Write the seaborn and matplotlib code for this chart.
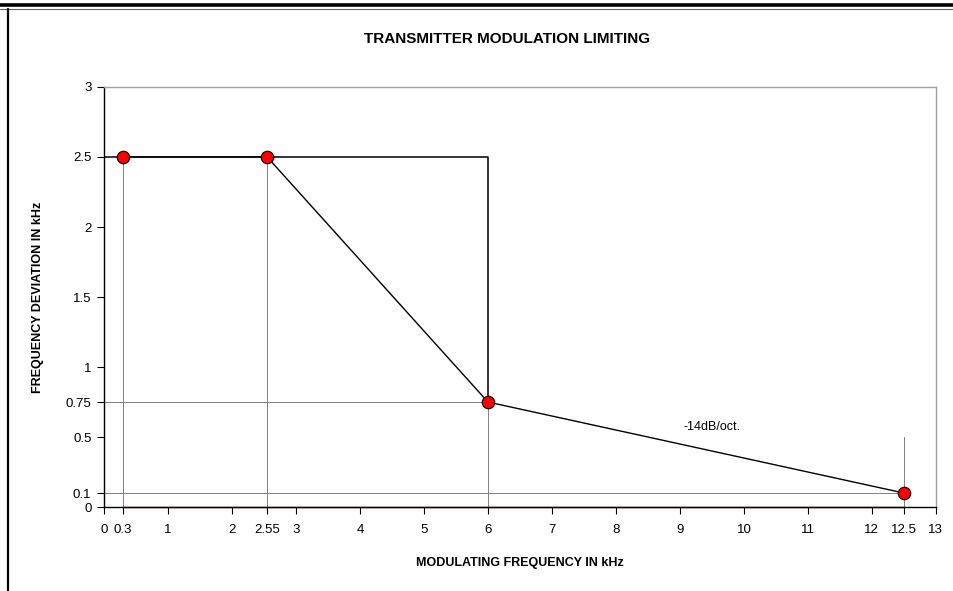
import pandas as pd
import seaborn as sns
import matplotlib.pyplot as plt
from matplotlib.lines import Line2D

# data
freq_khz = [0.3, 2.55, 6, 12.5]
deviation_khz = [2.5, 2.5, 0.75, 0.1]

limit_x = [0, 6, 6]
limit_y = [2.5, 2.5, 0.75]

x_ticks = [0, 0.3, 1, 2, 2.55, 3, 4, 5, 6, 7, 8, 9, 10, 11, 12, 12.5, 13]
y_ticks = [0, 0.1, 0.5, 0.75, 1, 1.5, 2, 2.5, 3]

df = pd.DataFrame({"freq": freq_khz, "dev": deviation_khz})

sns.set_style("white")
plt.rcParams["font.family"] = ["Liberation Sans", "DejaVu Sans"]
plt.rcParams["text.color"] = "black"
plt.rcParams["axes.labelcolor"] = "black"
plt.rcParams["xtick.color"] = "black"
plt.rcParams["ytick.color"] = "black"

fig = plt.figure(figsize=(9.54, 5.91), dpi=100)
ax = fig.add_axes([0.109, 0.1421, 0.872, 0.7107])

# thin grey drop lines
grey = "#808080"
ax.plot([0.3, 0.3], [0, 2.5], color=grey, lw=0.7, zorder=1)
ax.plot([2.55, 2.55], [0, 2.5], color=grey, lw=0.7, zorder=1)
ax.plot([6, 6], [0, 0.75], color=grey, lw=0.7, zorder=1)
ax.plot([12.5, 12.5], [0, 0.5], color=grey, lw=0.7, zorder=1)
ax.plot([0, 6], [0.75, 0.75], color=grey, lw=0.7, zorder=1)
ax.plot([0, 12.5], [0.1, 0.1], color=grey, lw=0.7, zorder=1)
ax.plot([0.3, 12.5], [0, 0], color="#990000", lw=1.0, zorder=2, clip_on=False)

# limiting box
ax.plot(limit_x, limit_y, color="black", lw=1.1, zorder=2)

# main curve
sns.lineplot(data=df, x="freq", y="dev", ax=ax, color="black", lw=1.0,
             marker="o", markersize=9, markerfacecolor="#ff0000",
             markeredgecolor="black", markeredgewidth=0.8, zorder=3)
ax.lines[-1].set_clip_on(False)

ax.text(9.5, 0.53, "-14dB/oct.", fontsize=9, ha="center", va="bottom")

ax.set_xlim(0, 13)
ax.set_ylim(0, 3)
ax.set_xticks(x_ticks)
ax.set_xticklabels([f"{t:g}" for t in x_ticks])
ax.set_yticks(y_ticks)
ax.set_yticklabels([f"{t:g}" for t in y_ticks])
ax.tick_params(axis="both", labelsize=9.5, length=5, width=0.8, direction="out",
               color="black", labelcolor="black", bottom=True, left=True, pad=4)
ax.tick_params(axis="x", pad=7)

for side in ["left", "bottom"]:
    ax.spines[side].set_color("black")
    ax.spines[side].set_linewidth(1.0)
for side in ["top", "right"]:
    ax.spines[side].set_color("#a0a0a0")
    ax.spines[side].set_linewidth(1.0)
    ax.spines[side].set_visible(True)

ax.set_xlabel("MODULATING FREQUENCY IN kHz", fontsize=9, fontweight="bold", labelpad=15)
ax.set_ylabel("FREQUENCY DEVIATION IN kHz", fontsize=9, fontweight="bold", labelpad=16)

fig.text(0.531, 0.934, "TRANSMITTER MODULATION LIMITING", fontsize=11,
         fontweight="bold", ha="center", va="center")

# outer frame
fig.add_artist(Line2D([0, 1], [1 - 4.5 / 591, 1 - 4.5 / 591], color="black", lw=2.6))
fig.add_artist(Line2D([0, 1], [1 - 8.5 / 591, 1 - 8.5 / 591], color="#606060", lw=0.8))
fig.add_artist(Line2D([8 / 954, 8 / 954], [0, 1 - 8.5 / 591], color="black", lw=1.6))

fig.savefig("out.png", dpi=100)
